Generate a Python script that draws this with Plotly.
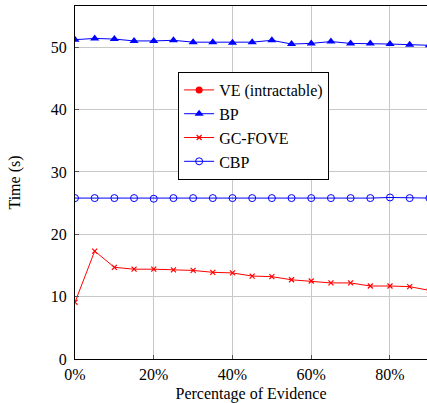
import plotly.graph_objects as go

evidence = [0, 5, 10, 15, 20, 25, 30, 35, 40, 45, 50, 55, 60, 65, 70, 75, 80, 85, 90]
bp = [51.2, 51.4, 51.3, 51.0, 51.0, 51.1, 50.8, 50.8, 50.7, 50.8, 51.1, 50.5, 50.6, 50.9, 50.6, 50.6, 50.5, 50.4, 50.3]
cbp = [25.8, 25.8, 25.8, 25.8, 25.7, 25.8, 25.8, 25.8, 25.8, 25.8, 25.8, 25.8, 25.8, 25.8, 25.8, 25.8, 25.9, 25.8, 25.8]
gcfove = [9.1, 17.3, 14.7, 14.4, 14.4, 14.3, 14.2, 13.9, 13.8, 13.3, 13.2, 12.7, 12.5, 12.2, 12.2, 11.7, 11.7, 11.6, 11.0]
ve = [None] * len(evidence)

x_ticks = [0, 20, 40, 60, 80]
x_tick_labels = ["0%", "20%", "40%", "60%", "80%"]
y_ticks = [0, 10, 20, 30, 40, 50]

FONT = "Liberation Serif"
tfont = dict(family=FONT, size=16, color="black")

fig = go.Figure()
fig.add_trace(go.Scatter(x=evidence, y=ve, name="VE (intractable)", mode="lines+markers",
                         line=dict(color="red", width=1), marker=dict(symbol="circle", size=7, color="red")))
fig.add_trace(go.Scatter(x=evidence, y=bp, name="BP", mode="lines+markers",
                         line=dict(color="blue", width=1), marker=dict(symbol="triangle-up", size=8, color="blue")))
fig.add_trace(go.Scatter(x=evidence, y=gcfove, name="GC-FOVE", mode="lines+markers",
                         line=dict(color="red", width=1),
                         marker=dict(symbol="x-thin-open", size=5, color="red", line=dict(color="red", width=1.2))))
fig.add_trace(go.Scatter(x=evidence, y=cbp, name="CBP", mode="lines+markers",
                         line=dict(color="blue", width=1),
                         marker=dict(symbol="circle-open", size=7, color="blue", line=dict(color="blue", width=1))))

fig.update_layout(
    width=427, height=403,
    margin=dict(l=75, r=0, t=6, b=44),
    paper_bgcolor="white", plot_bgcolor="white",
    font=tfont,
    legend=dict(x=0.293, y=0.813, xanchor="left", yanchor="top",
                bgcolor="white", bordercolor="black", borderwidth=1,
                font=dict(family=FONT, size=16, color="black"), tracegroupgap=0),
)
fig.update_xaxes(range=[0, 89.4], tickvals=x_ticks, ticktext=x_tick_labels, tickfont=tfont,
                 showgrid=True, gridcolor="#c8c8c8", gridwidth=1,
                 showline=True, linecolor="black", linewidth=1, mirror=True,
                 ticks="inside", ticklen=4, tickcolor="#555",
                 zeroline=False, ticklabelstandoff=1,
                 title=dict(text="Percentage of Evidence", font=tfont, standoff=8))
fig.update_yaxes(range=[0, 56.6], tickvals=y_ticks, tickfont=tfont,
                 showgrid=True, gridcolor="#c8c8c8", gridwidth=1,
                 showline=True, linecolor="black", linewidth=1, mirror=False,
                 ticks="inside", ticklen=4, tickcolor="#555",
                 zeroline=False, ticklabelstandoff=4,
                 title=dict(text="Time (s)", font=tfont, standoff=26))

fig.write_html("out.html", config={"displayModeBar": False},
               post_script="document.body.style.margin='0';document.body.style.overflow='hidden';")
